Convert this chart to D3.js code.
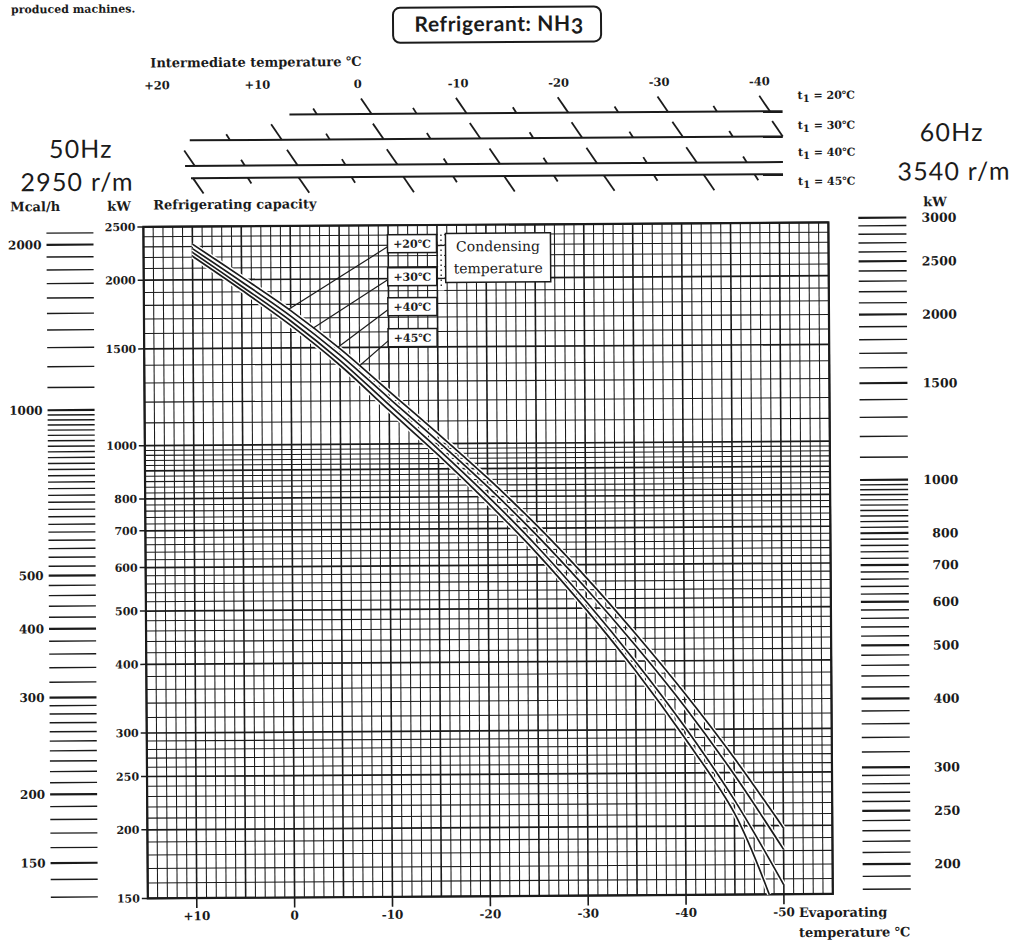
<!DOCTYPE html>
<html><head><meta charset="utf-8">
<script src="https://cdn.jsdelivr.net/npm/d3@7"></script>
<style>html,body{margin:0;padding:0;background:#fff;}svg{display:block;}</style>
</head><body>
<svg id="chart" width="1029" height="942"></svg>
<script>
// ---------------- DATA ----------------
// Refrigerating capacity (kW, 50Hz) vs evaporating temperature, per condensing temperature
const evapTemps   = [10, 5, 0, -5, -10, -15, -20, -25, -30, -35, -40, -45, -50];
const evapTemps45 = [10, 5, 0, -5, -10, -15, -20, -25, -30, -35, -40, -45, -48.5];
const cap20 = [2323, 2023, 1754, 1493, 1247, 1042, 865, 708, 569, 449, 349, 266, 198];
const cap30 = [2280, 1982, 1714, 1455, 1211, 1009, 834, 679, 543, 427, 330, 248, 181];
const cap40 = [2244, 1945, 1679, 1422, 1178, 977, 802, 649, 514, 399, 303, 223, 156];
const cap45 = [2208, 1914, 1648, 1393, 1151, 953, 780, 630, 497, 384, 289, 211, 150];
const condLabels = ["+20℃", "+30℃", "+40℃", "+45℃"];
const leaderEvap = [0.2, -2.3, -4.8, -7.0];

// axes
const xTickValues = [10, 0, -10, -20, -30, -40, -50];
const xTickLabels = ["+10", "0", "-10", "-20", "-30", "-40", "-50"];
const kwTickValues = [2500, 2000, 1500, 1000, 800, 700, 600, 500, 400, 300, 250, 200, 150];
const mcalTickValues = [2000, 1000, 500, 400, 300, 200, 150];
const kw60TickValues = [3000, 2500, 2000, 1500, 1000, 800, 700, 600, 500, 400, 300, 250, 200];
const kcalFactor = 1.163;   // kW per Mcal/h
const hz60Factor = 1.178;   // 60Hz / 50Hz capacity

// intermediate temperature nomogram
const interLabelTemps = [20, 10, 0, -10, -20, -30, -40];
const interLabelText = ["+20", "+10", "0", "-10", "-20", "-30", "-40"];
const t1Labels = ["20℃", "30℃", "40℃", "45℃"];
const interTemps20 = [5, 0, -5, -10, -15, -20, -25, -30, -35, -40];
const interEvap20  = [-2.8, -8.4, -13.0, -18.1, -23.2, -28.5, -33.6, -38.7, -43.7, -49.1];
const interTemps30 = [15, 10, 5, 0, -5, -10, -15, -20, -25, -30, -35, -40];
const interEvap30  = [6.1, 0.8, -4.1, -9.6, -14.4, -19.5, -24.9, -29.9, -35.1, -40.2, -45.3, -50.4];
const interTemps40 = [20, 15, 10, 5, 0, -5, -10, -15, -20, -25, -30, -35];
const interEvap40  = [9.7, 4.6, -0.8, -5.7, -11.0, -16.1, -21.5, -26.3, -31.4, -36.5, -41.6, -46.7];
const interTemps45 = [20, 15, 10, 5, 0, -5, -10, -15, -20, -25, -30, -35];
const interEvap45  = [9.9, 4.3, -0.9, -6.3, -11.6, -16.7, -21.9, -27.0, -32.1, -37.2, -42.3, -47.5];
const interLineStart = [0, 10.2, 10.7, 10.1];
const interLineEnd   = [-50.4, -50.4, -50.4, -50.4];

// ---------------- DRAWING ----------------
const ink = "#1b1b1b";
const serif = "'DejaVu Serif', 'Liberation Serif', serif";
const sans = "Lato, 'DejaVu Sans', sans-serif";
const svg = d3.select("#chart");
svg.append("rect").attr("width", 1029).attr("height", 942).attr("fill", "#fff");
const root = svg.append("g").attr("transform", "rotate(-0.38,514,471)");

const x = d3.scaleLinear().domain([15, -55]).range([145, 830]);
const y = d3.scaleLog().domain([150, 2500]).range([896, 224.5]);
const xL = x.range(), yR = y.range();

// grid
const kwGrid = [...d3.range(150, 300, 10), ...d3.range(300, 1000, 20), ...d3.range(1000, 2501, 100)];
const kwMajor = new Set([150, 200, 250, 300, 400, 500, 600, 700, 800, 900, 1000, 1500, 2000, 2500]);
const evGrid = d3.range(15, -56, -1);
const grid = root.append("g");
grid.selectAll("line.h").data(kwGrid).join("line").attr("class", "h")
  .attr("x1", xL[0]).attr("x2", xL[1]).attr("y1", d => y(d)).attr("y2", d => y(d))
  .attr("stroke", ink).attr("stroke-width", d => kwMajor.has(d) ? 1.7 : 1.05);
grid.selectAll("line.v").data(evGrid).join("line").attr("class", "v")
  .attr("y1", yR[0]).attr("y2", yR[1]).attr("x1", d => x(d)).attr("x2", d => x(d))
  .attr("stroke", ink).attr("stroke-width", d => d % 5 === 0 ? 1.6 : 1.05);
root.append("rect").attr("x", xL[0]).attr("y", yR[1]).attr("width", xL[1] - xL[0]).attr("height", yR[0] - yR[1])
  .attr("fill", "none").attr("stroke", ink).attr("stroke-width", 2.2);

// left kW axis
const yAx = root.append("g");
yAx.selectAll("line").data(kwTickValues).join("line")
  .attr("x1", 139).attr("x2", xL[0]).attr("y1", d => y(d)).attr("y2", d => y(d))
  .attr("stroke", ink).attr("stroke-width", 1.5);
yAx.selectAll("text").data(kwTickValues).join("text")
  .attr("x", 137).attr("y", d => y(d)).attr("dy", "0.36em").attr("text-anchor", "end")
  .attr("font-family", serif).attr("font-weight", "bold").attr("font-size", 11).attr("fill", ink)
  .text(d => d);

// bottom axis
const xAx = root.append("g");
xAx.selectAll("line").data(xTickValues).join("line")
  .attr("x1", d => x(d)).attr("x2", d => x(d)).attr("y1", yR[0]).attr("y2", yR[0] + 10)
  .attr("stroke", ink).attr("stroke-width", 1.6);
xAx.selectAll("text").data(xTickValues).join("text")
  .attr("x", d => x(d)).attr("y", 918).attr("text-anchor", "middle")
  .attr("font-family", serif).attr("font-weight", "bold").attr("font-size", 12).attr("fill", ink)
  .text((d, i) => xTickLabels[i]);
root.append("text").attr("x", 796).attr("y", 919).attr("font-family", serif).attr("font-weight", "bold")
  .attr("font-size", 13).attr("fill", ink).text("Evaporating");
root.append("text").attr("x", 796).attr("y", 939).attr("font-family", serif).attr("font-weight", "bold")
  .attr("font-size", 13).attr("fill", ink).text("temperature ℃");

// curves
const series = [
  {e: evapTemps, v: cap20}, {e: evapTemps, v: cap30},
  {e: evapTemps, v: cap40}, {e: evapTemps45, v: cap45}
];
const line = d3.line().x(d => x(d[0])).y(d => y(d[1])).curve(d3.curveCatmullRom.alpha(0.5));
const cg = root.append("g");
series.forEach(s => {
  cg.append("path").datum(s.e.map((e, i) => [e, s.v[i]])).attr("d", line)
    .attr("fill", "none").attr("stroke", "#fff").attr("stroke-width", 4.5);
});
series.forEach(s => {
  cg.append("path").datum(s.e.map((e, i) => [e, s.v[i]])).attr("d", line)
    .attr("fill", "none").attr("stroke", ink).attr("stroke-width", 1.7);
});

// condensing temperature labels with leaders (leaders point to the band edge)
const capAt20 = d3.scaleLinear().domain(evapTemps).range(cap20.map(Math.log));
const boxCY = [243, 276, 306, 337];
condLabels.forEach((lab, i) => {
  const ex = x(leaderEvap[i]), ey = y(Math.exp(capAt20(leaderEvap[i])));
  root.append("line").attr("x1", 389).attr("y1", boxCY[i] + 3).attr("x2", ex).attr("y2", ey)
    .attr("stroke", ink).attr("stroke-width", 1.2);
  root.append("rect").attr("x", 389).attr("y", boxCY[i] - 9).attr("width", 49).attr("height", 18)
    .attr("fill", "#fff").attr("stroke", ink).attr("stroke-width", 1.5);
  root.append("text").attr("x", 413.5).attr("y", boxCY[i] + 4).attr("text-anchor", "middle")
    .attr("font-family", serif).attr("font-weight", "bold").attr("font-size", 11).attr("fill", ink).text(lab);
});
root.append("line").attr("x1", 442.5).attr("x2", 442.5).attr("y1", 233).attr("y2", 290)
  .attr("stroke", "#fff").attr("stroke-width", 6);
root.append("line").attr("x1", 442.5).attr("x2", 442.5).attr("y1", 234).attr("y2", 288)
  .attr("stroke", ink).attr("stroke-width", 1.3).attr("stroke-dasharray", "1.5,3.5");
[245, 278].forEach(yy => root.append("line").attr("x1", 439).attr("x2", 446).attr("y1", yy).attr("y2", yy)
  .attr("stroke", ink).attr("stroke-width", 1.3));
root.append("rect").attr("x", 447).attr("y", 233).attr("width", 105).attr("height", 49)
  .attr("fill", "#fff").attr("stroke", ink).attr("stroke-width", 1.5);
root.append("text").attr("x", 499.5).attr("y", 251).attr("text-anchor", "middle").attr("font-family", serif)
  .attr("font-size", 14).attr("fill", ink).text("Condensing");
root.append("text").attr("x", 499.5).attr("y", 273).attr("text-anchor", "middle").attr("font-family", serif)
  .attr("font-size", 14).attr("fill", ink).text("temperature");

// axis titles
root.append("text").attr("x", 12).attr("y", 208).attr("font-family", serif).attr("font-weight", "bold")
  .attr("font-size", 13).attr("fill", ink).text("Mcal/h");
root.append("text").attr("x", 109).attr("y", 208).attr("font-family", serif).attr("font-weight", "bold")
  .attr("font-size", 13).attr("fill", ink).text("kW");
root.append("text").attr("x", 155).attr("y", 207).attr("font-family", serif).attr("font-weight", "bold")
  .attr("font-size", 13).attr("fill", ink).text("Refrigerating capacity");
root.append("text").attr("x", 925).attr("y", 209).attr("font-family", serif).attr("font-weight", "bold")
  .attr("font-size", 13).attr("fill", ink).text("kW");

// left Mcal/h scale
const mcalTicks = [...d3.range(130, 300, 10), ...d3.range(300, 1000, 20), ...d3.range(1000, 2101, 100)];
const lg = root.append("g");
lg.selectAll("line").data(mcalTicks).join("line")
  .attr("x1", 48).attr("x2", 95).attr("y1", d => y(d * kcalFactor)).attr("y2", d => y(d * kcalFactor))
  .attr("stroke", ink).attr("stroke-width", d => mcalTickValues.includes(d) ? 2.2 : 1.4);
lg.selectAll("text").data(mcalTickValues).join("text")
  .attr("x", 43).attr("y", d => y(d * kcalFactor)).attr("dy", "0.36em").attr("text-anchor", "end")
  .attr("font-family", serif).attr("font-weight", "bold").attr("font-size", 12).attr("fill", ink).text(d => d);

// right 60Hz kW scale
const kw60Ticks = [...d3.range(180, 300, 10), ...d3.range(300, 1000, 20), ...d3.range(1000, 3001, 100)];
const rg = root.append("g");
rg.selectAll("line").data(kw60Ticks).join("line")
  .attr("x1", 860).attr("x2", 908).attr("y1", d => y(d / hz60Factor)).attr("y2", d => y(d / hz60Factor))
  .attr("stroke", ink).attr("stroke-width", d => kw60TickValues.includes(d) ? 2.2 : 1.4);
rg.selectAll("text").data(kw60TickValues).join("text")
  .attr("x", 958).attr("y", d => y(d / hz60Factor)).attr("dy", "0.36em").attr("text-anchor", "end")
  .attr("font-family", serif).attr("font-weight", "bold").attr("font-size", 12.5).attr("fill", ink).text(d => d);

// big speed labels
[["50Hz", 83, 155], ["2950 r/m", 79, 188], ["60Hz", 954, 144], ["3540 r/m", 956, 183]].forEach(t => {
  root.append("text").attr("x", t[1]).attr("y", t[2]).attr("text-anchor", "middle")
    .attr("font-family", sans).attr("font-size", 25).attr("letter-spacing", 1.2).attr("fill", ink).text(t[0]);
});

// title box
root.append("rect").attr("x", 396).attr("y", 7).attr("width", 208).attr("height", 35).attr("rx", 7)
  .attr("fill", "#fff").attr("stroke", ink).attr("stroke-width", 2);
const tt = root.append("text").attr("x", 502).attr("y", 31).attr("text-anchor", "middle")
  .attr("font-family", sans).attr("font-weight", "bold").attr("font-size", 21).attr("letter-spacing", 0.6)
  .attr("fill", ink);
tt.append("tspan").text("Refrigerant: NH");
tt.append("tspan").attr("dy", 3).text("3");

// caption fragment at the very top
root.append("text").attr("x", 14).attr("y", 10).attr("font-family", serif).attr("font-weight", "bold")
  .attr("font-size", 11).attr("fill", ink).text("produced machines.");

// intermediate temperature nomogram
root.append("text").attr("x", 153).attr("y", 65).attr("font-family", serif).attr("font-weight", "bold")
  .attr("font-size", 13).attr("fill", ink).text("Intermediate temperature ℃");
const interScale = d3.scaleLinear().domain([20, -40]).range([159.5, 762]);
root.append("g").selectAll("text").data(interLabelTemps).join("text")
  .attr("x", d => interScale(d)).attr("y", 87).attr("text-anchor", "middle")
  .attr("font-family", serif).attr("font-weight", "bold").attr("font-size", 11.5).attr("fill", ink)
  .text((d, i) => interLabelText[i]);

const nomo = [
  {temps: interTemps20, evaps: interEvap20},
  {temps: interTemps30, evaps: interEvap30},
  {temps: interTemps40, evaps: interEvap40},
  {temps: interTemps45, evaps: interEvap45}
];
const lineY = [113, 138.2, 163.8, 176];
const labelY = [101, 131, 158, 187];
const ng = root.append("g");
nomo.forEach((n, i) => {
  const ly = lineY[i], below = i === 3;
  ng.append("line").attr("x1", x(interLineStart[i])).attr("x2", x(interLineEnd[i]))
    .attr("y1", ly).attr("y2", ly).attr("stroke", ink).attr("stroke-width", 2);
  n.temps.forEach((t, j) => {
    const px = x(n.evaps[j]);
    const major = t % 10 === 0;
    const dx = major ? 10.5 : 3.6, dy = major ? 15.5 : 5.8;
    if (below) {
      ng.append("line").attr("x1", px).attr("y1", ly).attr("x2", px + dx).attr("y2", ly + dy)
        .attr("stroke", ink).attr("stroke-width", 1.8);
    } else {
      ng.append("line").attr("x1", px - dx).attr("y1", ly - dy).attr("x2", px).attr("y2", ly)
        .attr("stroke", ink).attr("stroke-width", 1.8);
    }
  });
  const tl = ng.append("text").attr("x", 800).attr("y", labelY[i]).attr("font-family", serif)
    .attr("font-weight", "bold").attr("font-size", 11).attr("fill", ink);
  tl.append("tspan").text("t");
  tl.append("tspan").attr("dy", 3).attr("font-size", 10).text("1");
  tl.append("tspan").attr("dy", -3).text(" = " + t1Labels[i]);
});
</script>
</body></html>
